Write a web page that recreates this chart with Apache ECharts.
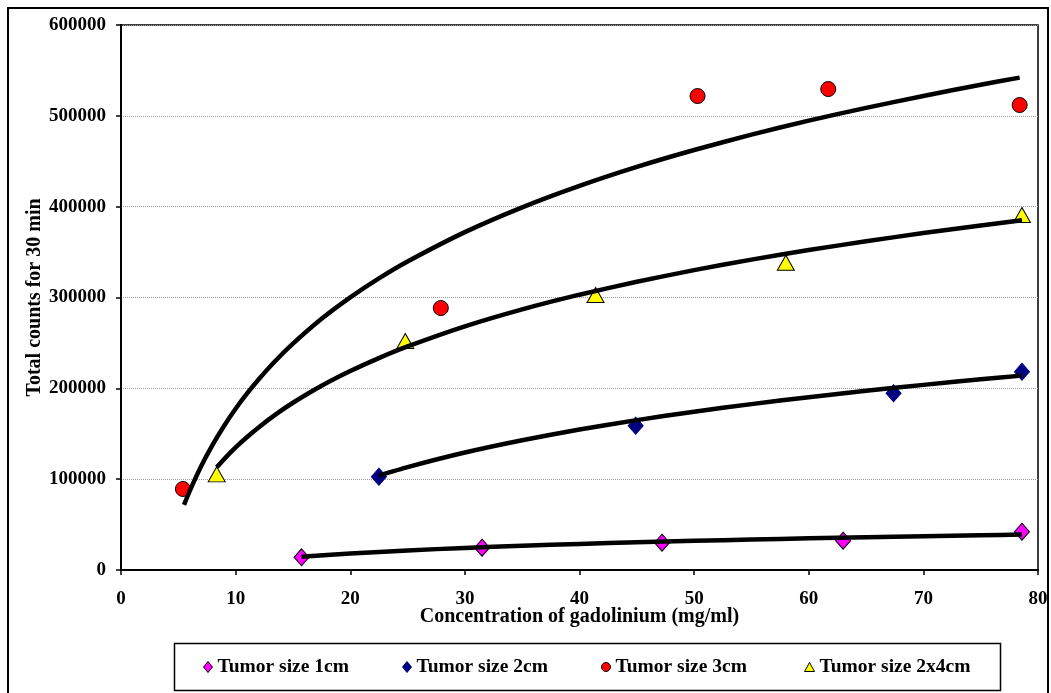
<!DOCTYPE html>
<html>
<head>
<meta charset="utf-8">
<script src="https://cdn.jsdelivr.net/npm/echarts@6/dist/echarts.min.js"></script>
<style>
  html, body { margin: 0; padding: 0; background: #fff; }
  #chart { width: 1051px; height: 693px; }
</style>
</head>
<body>
<div id="chart"></div>
<script>
// Measured counts per tumor size
const size1X = [15.75, 31.5, 47.2, 63.0, 78.6];
const size1Y = [14000, 24600, 30100, 32300, 42200];
const size2X = [22.5, 44.9, 67.4, 78.6];
const size2Y = [102700, 158900, 194500, 218300];
const size3X = [5.4, 27.9, 50.3, 61.7, 78.4];
const size3Y = [89200, 288400, 521800, 529500, 511900];
const size24X = [8.35, 24.8, 41.4, 58.0, 78.6];
const size24Y = [105300, 252100, 302700, 338300, 390800];

// Trend curves
const trend1X = [15.75, 20, 25, 30, 35, 40, 45, 50, 55, 60, 65, 70, 75, 78.6];
const trend1Y = [14500, 18150, 21550, 24330, 26670, 28720, 30520, 32120, 33570, 34890, 36110, 37240, 38290, 39000];
const trend2X = [22.5, 25, 30, 35, 40, 45, 50, 55, 60, 65, 70, 75, 78.6];
const trend2Y = [104000, 113300, 129300, 142800, 154600, 165000, 174300, 182600, 190300, 197300, 203800, 209900, 214000];
const trend3X = [5.5, 6, 7, 8, 9, 10, 11, 12, 13.5, 15, 17.5, 20, 22.5, 25, 30, 35, 40, 45, 50, 55, 60, 65, 70, 75, 78.4];
const trend3Y = [71700, 87100, 114400, 138000, 158900, 177600, 194400, 209800, 230700, 249300, 276600, 300200, 321100, 339700, 372000, 399300, 422900, 443800, 462400, 479300, 494700, 508800, 521900, 534200, 542100];
const trend24X = [8.35, 9, 10, 11, 12, 13.5, 15, 17.5, 20, 22.5, 25, 30, 35, 40, 45, 50, 55, 60, 65, 70, 75, 78.6];
const trend24Y = [113000, 122100, 134900, 146400, 157000, 171300, 184100, 202800, 219000, 233300, 246100, 268200, 286900, 303100, 317400, 330100, 341700, 352200, 361900, 370900, 379300, 385000];

const names = ['Tumor size 1cm', 'Tumor size 2cm', 'Tumor size 3cm', 'Tumor size 2x4cm'];
const xTitle = 'Concentration of gadolinium (mg/ml)';
const yTitle = 'Total counts for 30 min';

const pairs = (xs, ys) => xs.map((x, i) => [x, ys[i]]);
const FONT = 'Liberation Serif';

const markerSeries = (name, xs, ys, symbol, size, fill, stroke) => ({
  name, type: 'scatter', data: pairs(xs, ys), symbol, symbolSize: size,
  itemStyle: { color: fill, borderColor: stroke, borderWidth: 1, opacity: 1 },
  z: 2, silent: true
});
const trendSeries = (xs, ys) => ({
  type: 'line', data: pairs(xs, ys), showSymbol: false, smooth: 0.2,
  lineStyle: { color: '#000', width: 4.5 }, z: 5, silent: true
});
const legendItem = (name, left, icon, fill, stroke, w, h) => ({
  data: [{ name, icon, itemStyle: { color: fill, borderColor: stroke, borderWidth: 1 } }],
  left, top: 657, itemWidth: w, itemHeight: h, padding: 0,
  textStyle: { fontFamily: FONT, fontWeight: 'bold', fontSize: 19.5, color: '#000' },
  selectedMode: false
});

const chart = echarts.init(document.getElementById('chart'), null, { renderer: 'canvas' });
chart.setOption({
  animation: false,
  backgroundColor: '#fff',
  grid: { left: 121, top: 25, right: 13, bottom: 123, show: true, borderColor: '#000', borderWidth: 1.5, backgroundColor: 'transparent' },
  xAxis: {
    type: 'value', min: 0, max: 80, interval: 10,
    name: xTitle, nameLocation: 'middle', nameGap: 37, nameMoveOverlap: false,
    nameTextStyle: { fontFamily: FONT, fontWeight: 'bold', fontSize: 20, color: '#000' },
    axisLine: { show: true, lineStyle: { color: '#000', width: 2 } },
    axisTick: { show: true, length: 5, lineStyle: { color: '#000', width: 1.5 } },
    axisLabel: { fontFamily: FONT, fontWeight: 'bold', fontSize: 19, color: '#000', margin: 20 },
    splitLine: { show: false }
  },
  yAxis: {
    type: 'value', min: 0, max: 600000, interval: 100000,
    name: yTitle, nameLocation: 'middle', nameGap: 76, nameMoveOverlap: false,
    nameTextStyle: { fontFamily: FONT, fontWeight: 'bold', fontSize: 20, color: '#000' },
    axisLine: { show: true, lineStyle: { color: '#000', width: 2 } },
    axisTick: { show: true, length: 5, lineStyle: { color: '#000', width: 1.5 } },
    axisLabel: { fontFamily: FONT, fontWeight: 'bold', fontSize: 19, color: '#000', margin: 15, formatter: v => String(v) },
    splitLine: { show: true, lineStyle: { color: '#999', width: 1, type: 'dotted' } }
  },
  legend: [
    legendItem(names[0], 203, 'diamond', '#FF00FF', '#000', 9, 11),
    legendItem(names[1], 402, 'diamond', '#000080', '#000080', 9, 11),
    legendItem(names[2], 601, 'circle', '#FF0000', '#000', 9, 9),
    legendItem(names[3], 804, 'triangle', '#FFFF00', '#000', 10, 9)
  ],
  graphic: [
    { type: 'rect', shape: { x: 8, y: 8, width: 1040, height: 700 }, style: { fill: 'none', stroke: '#000', lineWidth: 2 }, silent: true, z: -1 },
    { type: 'rect', shape: { x: 174.5, y: 643.5, width: 826, height: 47 }, style: { fill: 'none', stroke: '#000', lineWidth: 1.5 }, silent: true, z: -1 }
  ],
  series: [
    markerSeries(names[0], size1X, size1Y, 'diamond', [15, 17], '#FF00FF', '#000'),
    markerSeries(names[1], size2X, size2Y, 'diamond', [15, 17], '#000080', '#000080'),
    markerSeries(names[2], size3X, size3Y, 'circle', 15, '#FF0000', '#000'),
    markerSeries(names[3], size24X, size24Y, 'triangle', [17, 15], '#FFFF00', '#000'),
    trendSeries(trend1X, trend1Y),
    trendSeries(trend2X, trend2Y),
    trendSeries(trend3X, trend3Y),
    trendSeries(trend24X, trend24Y)
  ]
});
</script>
</body>
</html>
